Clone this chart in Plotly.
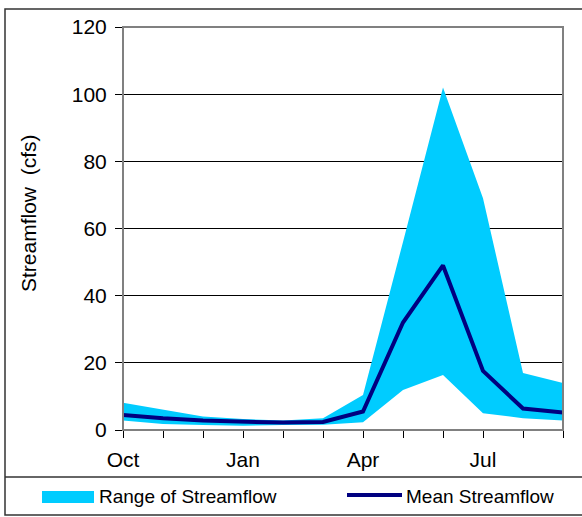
import plotly.graph_objects as go

# Monthly streamflow statistics, water year Oct-Sep (cfs)
months = ["Oct", "Nov", "Dec", "Jan", "Feb", "Mar", "Apr", "May", "Jun", "Jul", "Aug", "Sep"]
flow_min = [2.8, 1.8, 1.5, 1.3, 1.5, 1.6, 2.3, 11.9, 16.4, 5.0, 3.5, 2.8]
flow_max = [8.1, 6.0, 4.0, 3.3, 2.8, 3.5, 10.4, 56.0, 102.0, 69.0, 17.0, 14.0]
flow_mean = [4.5, 3.5, 2.8, 2.5, 2.2, 2.4, 5.5, 32.0, 49.0, 17.6, 6.4, 5.2]
tick_text = ["Oct", "", "", "Jan", "", "", "Apr", "", "", "Jul", "", ""]

W, H = 582, 517
L, R, T, B = 123, 19, 27, 87
FONT = "Liberation Sans, Arial, sans-serif"
FILL = "#00CCFF"
NAVY = "#000080"

x = list(range(len(months)))


def px(xp):
    return (xp - L) / (W - L - R)


def py(yp):
    return (H - B - yp) / (H - T - B)


fig = go.Figure()
fig.add_trace(go.Scatter(x=x, y=flow_min, mode="lines", line=dict(width=0, color=FILL),
                         showlegend=False, hoverinfo="skip"))
fig.add_trace(go.Scatter(x=x, y=flow_max, mode="lines", line=dict(width=0, color=FILL),
                         fill="tonexty", fillcolor=FILL, name="Range of Streamflow",
                         showlegend=False))
fig.add_trace(go.Scatter(x=x, y=flow_mean, mode="lines", line=dict(width=4, color=NAVY),
                         name="Mean Streamflow", showlegend=False))

shapes = [
    # plot area border
    dict(type="rect", xref="paper", yref="paper", x0=0, x1=1, y0=0, y1=1,
         line=dict(color="#808080", width=2), layer="above"),
    # outer chart frame
    dict(type="rect", xref="paper", yref="paper", x0=px(5), x1=px(590), y0=py(9), y1=py(515),
         line=dict(color="#333333", width=1.5)),
    # legend separator
    dict(type="line", xref="paper", yref="paper", x0=px(5), x1=px(590), y0=py(477), y1=py(477),
         line=dict(color="#333333", width=1.5)),
    # legend swatches
    dict(type="rect", xref="paper", yref="paper", x0=px(42), x1=px(94), y0=py(491), y1=py(503),
         fillcolor=FILL, line=dict(width=0)),
    dict(type="line", xref="paper", yref="paper", x0=px(347), x1=px(402), y0=py(495), y1=py(495),
         line=dict(color=NAVY, width=4)),
]

annotations = [
    dict(text="Streamflow  (cfs)", textangle=-90, xref="paper", yref="paper",
         x=px(28), y=py(213), xanchor="center", yanchor="middle", showarrow=False,
         font=dict(size=21, color="black", family=FONT)),
    dict(text="Range of Streamflow", xref="paper", yref="paper", x=px(97), y=py(496),
         xanchor="left", yanchor="middle", showarrow=False,
         font=dict(size=19, color="black", family=FONT)),
    dict(text="Mean Streamflow", xref="paper", yref="paper", x=px(404), y=py(496),
         xanchor="left", yanchor="middle", showarrow=False,
         font=dict(size=19, color="black", family=FONT)),
]

fig.update_layout(
    width=W, height=H,
    margin=dict(l=L, r=R, t=T, b=B, autoexpand=False),
    paper_bgcolor="white", plot_bgcolor="white",
    font=dict(family=FONT, size=21, color="black"),
    shapes=shapes, annotations=annotations,
    xaxis=dict(range=[0, 11], tickmode="array", tickvals=x, ticktext=tick_text,
               ticks="outside", ticklen=7, tickcolor="black", tickwidth=1,
               showline=True, linecolor="black", linewidth=1, showgrid=False,
               zeroline=False, ticklabelstandoff=4, tickfont=dict(size=21)),
    yaxis=dict(range=[0, 120], dtick=20, ticks="outside", ticklen=7, tickcolor="black",
               tickwidth=1, showline=True, linecolor="black", linewidth=1,
               showgrid=True, gridcolor="black", gridwidth=1, zeroline=False,
               ticklabelstandoff=4, tickfont=dict(size=21)),
)

fig.write_html("out.html")
